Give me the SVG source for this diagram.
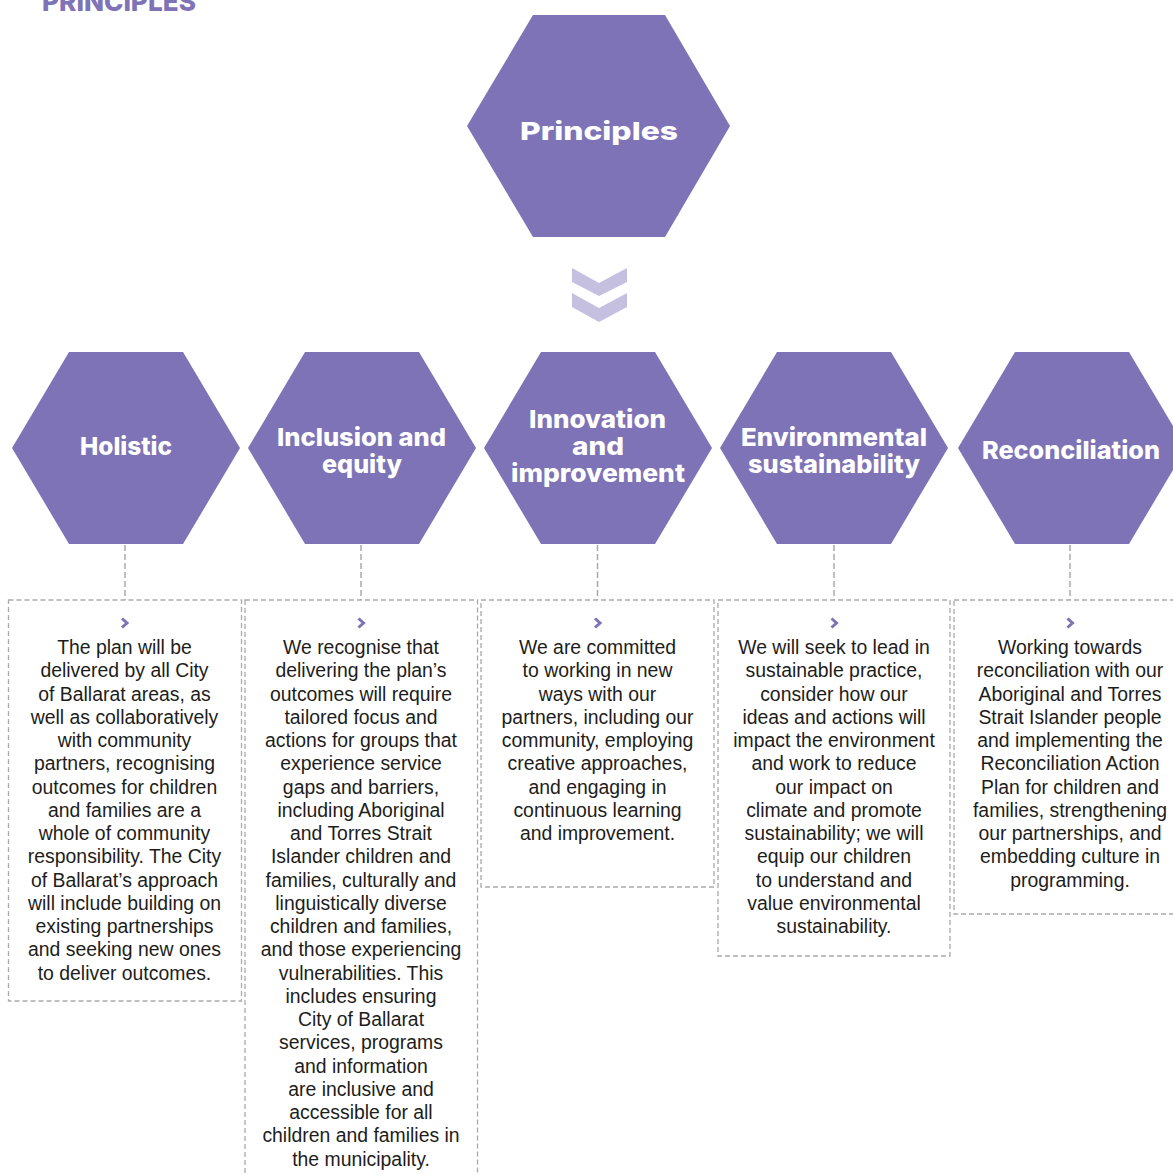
<svg xmlns="http://www.w3.org/2000/svg" width="1173" height="1175" viewBox="0 0 1173 1175">
<style>
.hex{fill:#7E73B6}
.ht{fill:#fff;font-family:Inter,"Noto Sans",sans-serif;font-weight:800;font-size:25px;text-anchor:middle}
.box{fill:none;stroke:#AAAAAA;stroke-width:1.3;stroke-dasharray:5 3}
.con{fill:none;stroke:#AAAAAA;stroke-width:1.5;stroke-dasharray:6 3}
.bt{fill:#1d1d1b;font-family:"Liberation Sans",Arial,sans-serif;font-size:19.4px;text-anchor:middle}
.chev{fill:none;stroke:#7E73B6;stroke-width:3}
</style>
<rect width="1173" height="1175" fill="#fff"/>
<text x="42" y="11" fill="#7E73B6" font-family="Inter,'Noto Sans',sans-serif" font-weight="800" font-size="26" textLength="154" lengthAdjust="spacingAndGlyphs">PRINCIPLES</text>

<g id="principles">
<polygon class="hex" points="467,126 533,15 665,15 730,126 665,237 533,237"/>
<text class="ht" x="599" y="140" font-size="32" textLength="158" lengthAdjust="spacingAndGlyphs">Principles</text>
</g>

<g id="down-arrow" fill="#C5BFE0">
<polygon points="572,268 599,283 627,268 627,282 599,296 572,282"/>
<polygon points="572,293 599,308 627,293 627,307 599,322 572,307"/>
</g>

<g id="connectors">
<line class="con" x1="125" y1="545" x2="125" y2="600"/>
<line class="con" x1="361" y1="545" x2="361" y2="600"/>
<line class="con" x1="597.5" y1="545" x2="597.5" y2="600"/>
<line class="con" x1="834" y1="545" x2="834" y2="600"/>
<line class="con" x1="1070" y1="545" x2="1070" y2="600"/>
</g>

<g id="holistic">
<polygon class="hex" points="12,448 69,352 183,352 240,448 183,544 69,544"/>
<text class="ht" x="126" y="455" textLength="92" lengthAdjust="spacingAndGlyphs">Holistic</text>
</g>
<g id="inclusion">
<polygon class="hex" points="248,448 305,352 419,352 476,448 419,544 305,544"/>
<text class="ht" x="361.5" y="446" textLength="169" lengthAdjust="spacingAndGlyphs">Inclusion and</text>
<text class="ht" x="362" y="473" textLength="80" lengthAdjust="spacingAndGlyphs">equity</text>
</g>
<g id="innovation">
<polygon class="hex" points="484,448 541,352 655,352 712,448 655,544 541,544"/>
<text class="ht" x="597.5" y="428" textLength="137" lengthAdjust="spacingAndGlyphs">Innovation</text>
<text class="ht" x="598" y="455" textLength="52" lengthAdjust="spacingAndGlyphs">and</text>
<text class="ht" x="598" y="482" textLength="174" lengthAdjust="spacingAndGlyphs">improvement</text>
</g>
<g id="environmental">
<polygon class="hex" points="720,448 777,352 891,352 948,448 891,544 777,544"/>
<text class="ht" x="834" y="446" textLength="186" lengthAdjust="spacingAndGlyphs">Environmental</text>
<text class="ht" x="834" y="473" textLength="172" lengthAdjust="spacingAndGlyphs">sustainability</text>
</g>
<g id="reconciliation">
<polygon class="hex" points="958,448 1015,352 1129,352 1186,448 1129,544 1015,544"/>
<text class="ht" x="1071" y="459" textLength="178" lengthAdjust="spacingAndGlyphs">Reconciliation</text>
</g>

<g id="box-holistic">
<rect class="box" x="8.5" y="600" width="233" height="401"/>
<polyline class="chev" points="122,618.5 127,623 122,627.5"/>
<text class="bt" y="654"><tspan x="124.5">The plan will be</tspan><tspan x="124.5" dy="23.25">delivered by all City</tspan><tspan x="124.5" dy="23.25">of Ballarat areas, as</tspan><tspan x="124.5" dy="23.25">well as collaboratively</tspan><tspan x="124.5" dy="23.25">with community</tspan><tspan x="124.5" dy="23.25">partners, recognising</tspan><tspan x="124.5" dy="23.25">outcomes for children</tspan><tspan x="124.5" dy="23.25">and families are a</tspan><tspan x="124.5" dy="23.25">whole of community</tspan><tspan x="124.5" dy="23.25">responsibility. The City</tspan><tspan x="124.5" dy="23.25">of Ballarat’s approach</tspan><tspan x="124.5" dy="23.25">will include building on</tspan><tspan x="124.5" dy="23.25">existing partnerships</tspan><tspan x="124.5" dy="23.25">and seeking new ones</tspan><tspan x="124.5" dy="23.25">to deliver outcomes.</tspan></text>
</g>

<g id="box-inclusion">
<rect class="box" x="245" y="600" width="232.5" height="590"/>
<polyline class="chev" points="358.5,618.5 363.5,623 358.5,627.5"/>
<text class="bt" y="654"><tspan x="361">We recognise that</tspan><tspan x="361" dy="23.25">delivering the plan’s</tspan><tspan x="361" dy="23.25">outcomes will require</tspan><tspan x="361" dy="23.25">tailored focus and</tspan><tspan x="361" dy="23.25">actions for groups that</tspan><tspan x="361" dy="23.25">experience service</tspan><tspan x="361" dy="23.25">gaps and barriers,</tspan><tspan x="361" dy="23.25">including Aboriginal</tspan><tspan x="361" dy="23.25">and Torres Strait</tspan><tspan x="361" dy="23.25">Islander children and</tspan><tspan x="361" dy="23.25">families, culturally and</tspan><tspan x="361" dy="23.25">linguistically diverse</tspan><tspan x="361" dy="23.25">children and families,</tspan><tspan x="361" dy="23.25">and those experiencing</tspan><tspan x="361" dy="23.25">vulnerabilities. This</tspan><tspan x="361" dy="23.25">includes ensuring</tspan><tspan x="361" dy="23.25">City of Ballarat</tspan><tspan x="361" dy="23.25">services, programs</tspan><tspan x="361" dy="23.25">and information</tspan><tspan x="361" dy="23.25">are inclusive and</tspan><tspan x="361" dy="23.25">accessible for all</tspan><tspan x="361" dy="23.25">children and families in</tspan><tspan x="361" dy="23.25">the municipality.</tspan></text>
</g>

<g id="box-innovation">
<rect class="box" x="481" y="600" width="233" height="287"/>
<polyline class="chev" points="595,618.5 600,623 595,627.5"/>
<text class="bt" y="654"><tspan x="597.5">We are committed</tspan><tspan x="597.5" dy="23.25">to working in new</tspan><tspan x="597.5" dy="23.25">ways with our</tspan><tspan x="597.5" dy="23.25">partners, including our</tspan><tspan x="597.5" dy="23.25">community, employing</tspan><tspan x="597.5" dy="23.25">creative approaches,</tspan><tspan x="597.5" dy="23.25">and engaging in</tspan><tspan x="597.5" dy="23.25">continuous learning</tspan><tspan x="597.5" dy="23.25">and improvement.</tspan></text>
</g>

<g id="box-environmental">
<rect class="box" x="718" y="600" width="232" height="356"/>
<polyline class="chev" points="831.5,618.5 836.5,623 831.5,627.5"/>
<text class="bt" y="654"><tspan x="834">We will seek to lead in</tspan><tspan x="834" dy="23.25">sustainable practice,</tspan><tspan x="834" dy="23.25">consider how our</tspan><tspan x="834" dy="23.25">ideas and actions will</tspan><tspan x="834" dy="23.25">impact the environment</tspan><tspan x="834" dy="23.25">and work to reduce</tspan><tspan x="834" dy="23.25">our impact on</tspan><tspan x="834" dy="23.25">climate and promote</tspan><tspan x="834" dy="23.25">sustainability; we will</tspan><tspan x="834" dy="23.25">equip our children</tspan><tspan x="834" dy="23.25">to understand and</tspan><tspan x="834" dy="23.25">value environmental</tspan><tspan x="834" dy="23.25">sustainability.</tspan></text>
</g>

<g id="box-reconciliation">
<rect class="box" x="954" y="600" width="233" height="314"/>
<polyline class="chev" points="1067.5,618.5 1072.5,623 1067.5,627.5"/>
<text class="bt" y="654"><tspan x="1070">Working towards</tspan><tspan x="1070" dy="23.25">reconciliation with our</tspan><tspan x="1070" dy="23.25">Aboriginal and Torres</tspan><tspan x="1070" dy="23.25">Strait Islander people</tspan><tspan x="1070" dy="23.25">and implementing the</tspan><tspan x="1070" dy="23.25">Reconciliation Action</tspan><tspan x="1070" dy="23.25">Plan for children and</tspan><tspan x="1070" dy="23.25">families, strengthening</tspan><tspan x="1070" dy="23.25">our partnerships, and</tspan><tspan x="1070" dy="23.25">embedding culture in</tspan><tspan x="1070" dy="23.25">programming.</tspan></text>
</g>
</svg>
